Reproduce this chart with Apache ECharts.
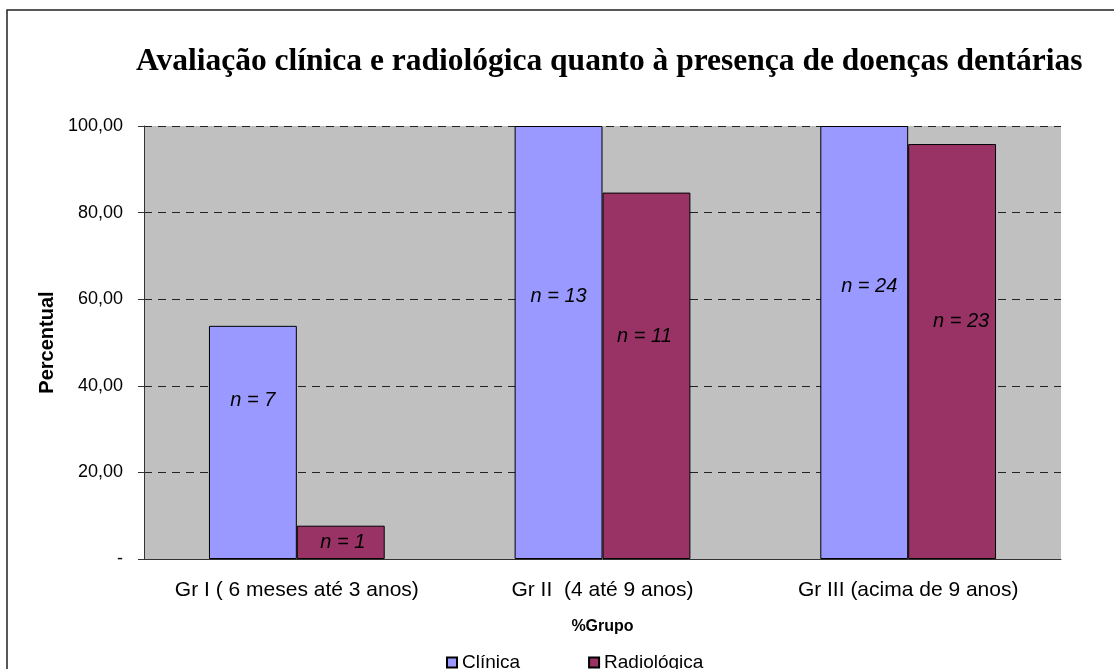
<!DOCTYPE html>
<html lang="pt-BR">
<head>
    <meta charset="UTF-8">
    <title>Avaliação clínica e radiológica</title>
    <script src="https://cdn.jsdelivr.net/npm/echarts@6/dist/echarts.min.js"></script>
    <style type="text/css">
        html, body { margin: 0; padding: 0; background: #fff; }
        #myChart { width: 1114px; height: 669px; }
    </style>
</head>
<body>
<div id="myChart"></div>
<script type="text/javascript">
    // dados
    var categorias = ['Gr I ( 6 meses até 3 anos)', 'Gr II  (4 até 9 anos)', 'Gr III (acima de 9 anos)'];
    var clinica = [53.85, 100, 100];
    var radiologica = [7.69, 84.62, 95.83];
    var nClinica = [7, 13, 24];
    var nRadiologica = [1, 11, 23];
    var yTicks = [0, 20, 40, 60, 80, 100];

    // deslocamento manual dos rótulos (como no Excel)
    var offClinica = [[0, -42], [0, -46], [5, -56]];
    var offRadiologica = [[2, 0], [-2, -39], [9, -30]];

    function rotulos(valores, ns, offs) {
        return valores.map(function (v, i) {
            return {
                value: v,
                label: { offset: offs[i], formatter: 'n = ' + ns[i] }
            };
        });
    }

    var labelStyle = {
        show: true,
        position: 'inside',
        color: '#000',
        fontFamily: 'Liberation Sans, Arial',
        fontStyle: 'italic',
        fontSize: 20
    };

    var myChart = echarts.init(document.getElementById('myChart'));

    option = {
        animation: false,
        backgroundColor: '#fff',
        title: {
            text: 'Avaliação clínica e radiológica quanto à presença de doenças dentárias',
            left: 131,
            top: 41,
            textStyle: {
                fontFamily: 'Liberation Serif, Times New Roman',
                fontWeight: 'bold',
                fontSize: 31.5,
                color: '#000'
            }
        },
        graphic: [{
            type: 'rect',
            shape: { x: 7, y: 10, width: 1200, height: 700 },
            style: { fill: 'none', stroke: '#222', lineWidth: 1.5 },
            silent: true
        }],
        legend: {
            data: ['Clínica', 'Radiológica'],
            left: 441,
            top: 648,
            icon: 'rect',
            itemWidth: 10,
            itemHeight: 10,
            itemGap: 68,
            textStyle: { fontFamily: 'Liberation Sans, Arial', fontSize: 19, color: '#000' }
        },
        grid: {
            left: 144,
            right: 53,
            top: 126,
            bottom: 110,
            show: true,
            backgroundColor: '#C0C0C0',
            borderWidth: 0
        },
        xAxis: {
            type: 'category',
            data: categorias,
            name: '%Grupo',
            nameLocation: 'middle',
            nameGap: 60,
            nameTextStyle: { fontFamily: 'Liberation Sans, Arial', fontWeight: 'bold', fontSize: 16, color: '#000' },
            axisLine: { lineStyle: { color: '#333', width: 1 } },
            axisTick: { length: 6, lineStyle: { color: '#333' } },
            axisLabel: { interval: 0, margin: 21, fontFamily: 'Liberation Sans, Arial', fontSize: 21, color: '#000' }
        },
        yAxis: {
            type: 'value',
            min: yTicks[0],
            max: yTicks[yTicks.length - 1],
            interval: 20,
            name: 'Percentual',
            nameLocation: 'middle',
            nameRotate: 90,
            nameGap: 87,
            nameTextStyle: { fontFamily: 'Liberation Sans, Arial', fontWeight: 'bold', fontSize: 20, color: '#000' },
            axisLine: { show: true, lineStyle: { color: '#333', width: 1 } },
            axisTick: { show: true, length: 6, lineStyle: { color: '#333' } },
            axisLabel: {
                margin: 21,
                fontFamily: 'Liberation Sans, Arial',
                fontSize: 18,
                color: '#000',
                formatter: function (v) {
                    return v === 0 ? '-' : v.toFixed(2).replace('.', ',');
                }
            },
            splitLine: { show: true, lineStyle: { color: '#222', width: 1, type: [8, 6] } }
        },
        series: [
            {
                name: 'Clínica',
                type: 'bar',
                barGap: '0%',
                barCategoryGap: '42.5%',
                data: rotulos(clinica, nClinica, offClinica),
                itemStyle: { color: '#9999FF', borderColor: '#000', borderWidth: 1 },
                label: labelStyle
            },
            {
                name: 'Radiológica',
                type: 'bar',
                data: rotulos(radiologica, nRadiologica, offRadiologica),
                itemStyle: { color: '#993366', borderColor: '#000', borderWidth: 1 },
                label: labelStyle
            }
        ]
    };

    myChart.setOption(option);
</script>
</body>
</html>
